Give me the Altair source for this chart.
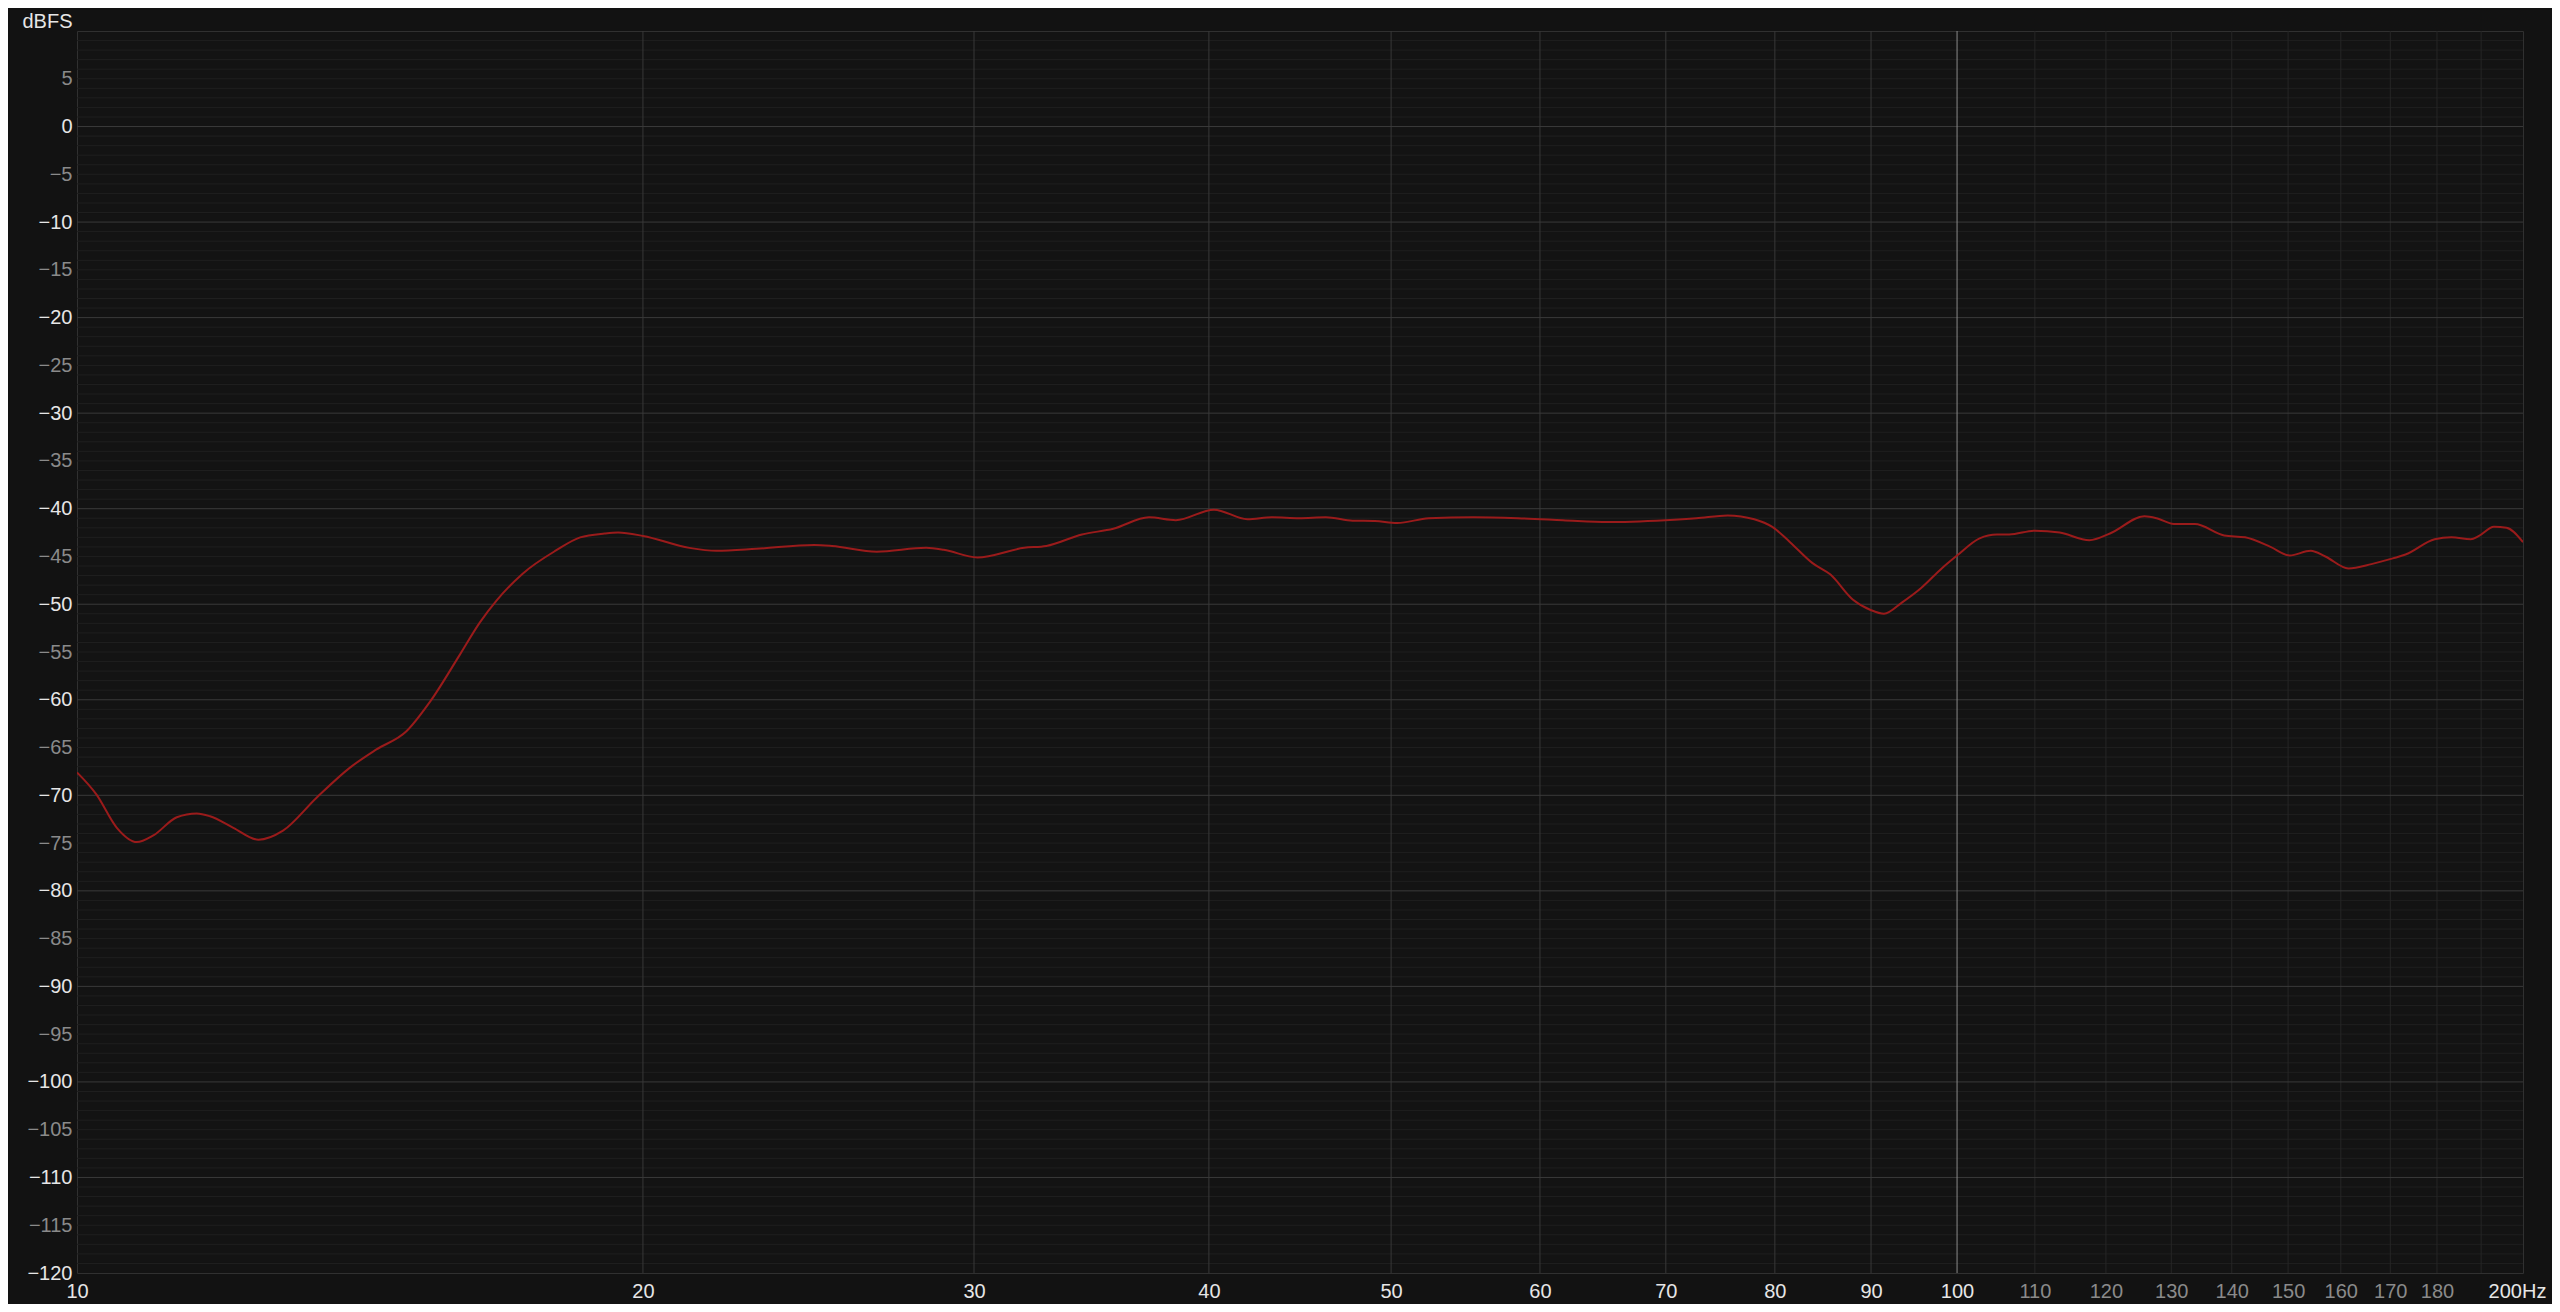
import altair as alt
import pandas as pd

# ---- data ----
freq_hz = [10.0, 10.24, 10.50, 10.76, 10.98, 11.30, 11.58, 11.77, 12.11, 12.49,
           12.87, 13.41, 13.97, 14.43, 14.97, 15.41, 15.98, 16.38, 16.72, 17.26,
           17.97, 18.52, 19.08, 19.40, 20.0, 21.17, 21.88, 22.98, 24.67, 25.21,
           26.63, 28.29, 28.91, 30.12, 31.9, 32.78, 34.24, 35.58, 37.17, 38.41,
           40.25, 41.93, 43.24, 44.67, 46.16, 47.7, 49.02, 50.38, 52.36, 55.29,
           58.4, 61.7, 65.16, 69.95, 72.67, 75.5, 78.01, 79.75, 81.5, 83.78,
           85.64, 88.0, 89.95, 91.44, 93.5, 95.7, 98.2, 100.0, 102.8, 105.0,
           106.6, 110.0, 113.4, 117.6, 120.6, 125.8, 127.7, 130.4, 133.8, 138.7,
           142.3, 146.8, 150.3, 154.2, 157.0, 161.5, 166.1, 170.5, 173.2, 179.5,
           183.2, 187.6, 189.5, 193.0, 196.0, 200.0]
level_dbfs = [-67.6, -69.9, -73.4, -74.9, -74.2, -72.3, -71.9, -72.2, -73.4, -74.65,
              -73.7, -70.25, -67.1, -65.2, -63.3, -60.2, -55.3, -51.9, -49.6, -46.8,
              -44.4, -43.0, -42.6, -42.5, -42.85, -44.1, -44.4, -44.2, -43.8, -43.9,
              -44.5, -44.1, -44.3, -45.1, -44.1, -43.9, -42.7, -42.1, -40.9, -41.2,
              -40.1, -41.1, -40.9, -41.0, -40.9, -41.25, -41.3, -41.5, -41.0, -40.9,
              -41.0, -41.2, -41.4, -41.2, -41.0, -40.7, -41.1, -41.9, -43.5, -45.7,
              -46.9, -49.5, -50.6, -51.0, -49.8, -48.3, -46.2, -44.9, -43.1, -42.7,
              -42.7, -42.3, -42.5, -43.3, -42.6, -40.8, -41.0, -41.6, -41.6, -42.8,
              -43.0, -44.0, -44.9, -44.4, -45.0, -46.25, -45.8, -45.2, -44.8, -43.2,
              -43.0, -43.2, -42.85, -41.9, -42.0, -43.5]

x_tick_values = [10, 20, 30, 40, 50, 60, 70, 80, 90, 100,
                 110, 120, 130, 140, 150, 160, 170, 180, 200]
x_grid_major = [20, 30, 40, 50, 60, 70, 80, 90]
x_grid_hundred = [100]
x_grid_minor = [110, 120, 130, 140, 150, 160, 170, 180, 190]
y_tick_values = [-120, -115, -110, -105, -100, -95, -90, -85, -80, -75, -70, -65,
                 -60, -55, -50, -45, -40, -35, -30, -25, -20, -15, -10, -5, 0, 5]
y_grid_major = [-110, -100, -90, -80, -70, -60, -50, -40, -30, -20, -10, 0]
y_grid_minor = [v for v in range(-119, 10) if v % 10 != 0]

FONT = "Liberation Sans"
FS = 20
X_SCALE = alt.Scale(type="log", domain=[10, 200], nice=False)
Y_SCALE = alt.Scale(domain=[-120, 10], nice=False, zero=False)

x_axis = alt.Axis(
    values=x_tick_values,
    labelExpr="datum.value == 200 ? '200Hz' : format(datum.value, 'd')",
    labelColor={"condition": {"test": "datum.value > 100 && datum.value < 200", "value": "#8a8a8a"},
                "value": "#e6e6e6"},
    labelOffset={"condition": {"test": "datum.value == 200", "value": -6}, "value": 0},
    labelFont=FONT, labelFontSize=FS, labelPadding=8,
    labelOverlap=False, labelFlush=False, labelBound=False,
    grid=False, ticks=False, tickSize=0, domain=False, title=None,
)
y_axis = alt.Axis(
    values=y_tick_values,
    format="d",
    labelColor={"condition": {"test": "datum.value % 10 === 0", "value": "#e6e6e6"},
                "value": "#8a8a8a"},
    labelFont=FONT, labelFontSize=FS, labelPadding=5, labelBaseline="middle",
    labelOverlap=False, labelFlush=False, labelBound=False,
    grid=False, ticks=False, tickSize=0, domain=False,
    title="dBFS", titleAngle=0, titleAlign="right", titleBaseline="alphabetic",
    titleX=-5, titleY=-4, titleFont=FONT, titleFontSize=FS,
    titleFontWeight="normal", titleColor="#e6e6e6",
)


def xenc(field):
    return alt.X(field, type="quantitative", scale=X_SCALE, axis=x_axis)


def yenc(field):
    return alt.Y(field, type="quantitative", scale=Y_SCALE, axis=y_axis)


curve_df = pd.DataFrame({"f": freq_hz, "db": level_dbfs})

hminor = alt.Chart(pd.DataFrame({"db": y_grid_minor})).mark_rule(
    color="#1f1f1f", strokeWidth=1
).encode(y=yenc("db"))

hmajor = alt.Chart(pd.DataFrame({"db": y_grid_major})).mark_rule(
    color="#3a3a3a", strokeWidth=1
).encode(y=yenc("db"))

vminor = alt.Chart(pd.DataFrame({"f": x_grid_minor})).mark_rule(
    color="#262626", strokeWidth=1
).encode(x=xenc("f"))

vmajor = alt.Chart(pd.DataFrame({"f": x_grid_major})).mark_rule(
    color="#383838", strokeWidth=1
).encode(x=xenc("f"))

vhundred = alt.Chart(pd.DataFrame({"f": x_grid_hundred})).mark_rule(
    color="#8a8a8a", strokeWidth=1
).encode(x=xenc("f"))

curve = alt.Chart(curve_df).mark_line(
    color="#9a1b1b", strokeWidth=2, interpolate="monotone", clip=True
).encode(x=xenc("f"), y=yenc("db"))

chart = alt.layer(hminor, vminor, vmajor, hmajor, vhundred, curve).properties(
    width=2446, height=1242,
    autosize=alt.AutoSizeParams(type="none"),
    padding={"left": 69, "top": 23, "right": 29, "bottom": 31},
    background="#121212",
).configure_view(stroke="#303030", strokeWidth=1, fill="#131313")

chart.save("out.html", embed_options={"renderer": "svg", "actions": False})
